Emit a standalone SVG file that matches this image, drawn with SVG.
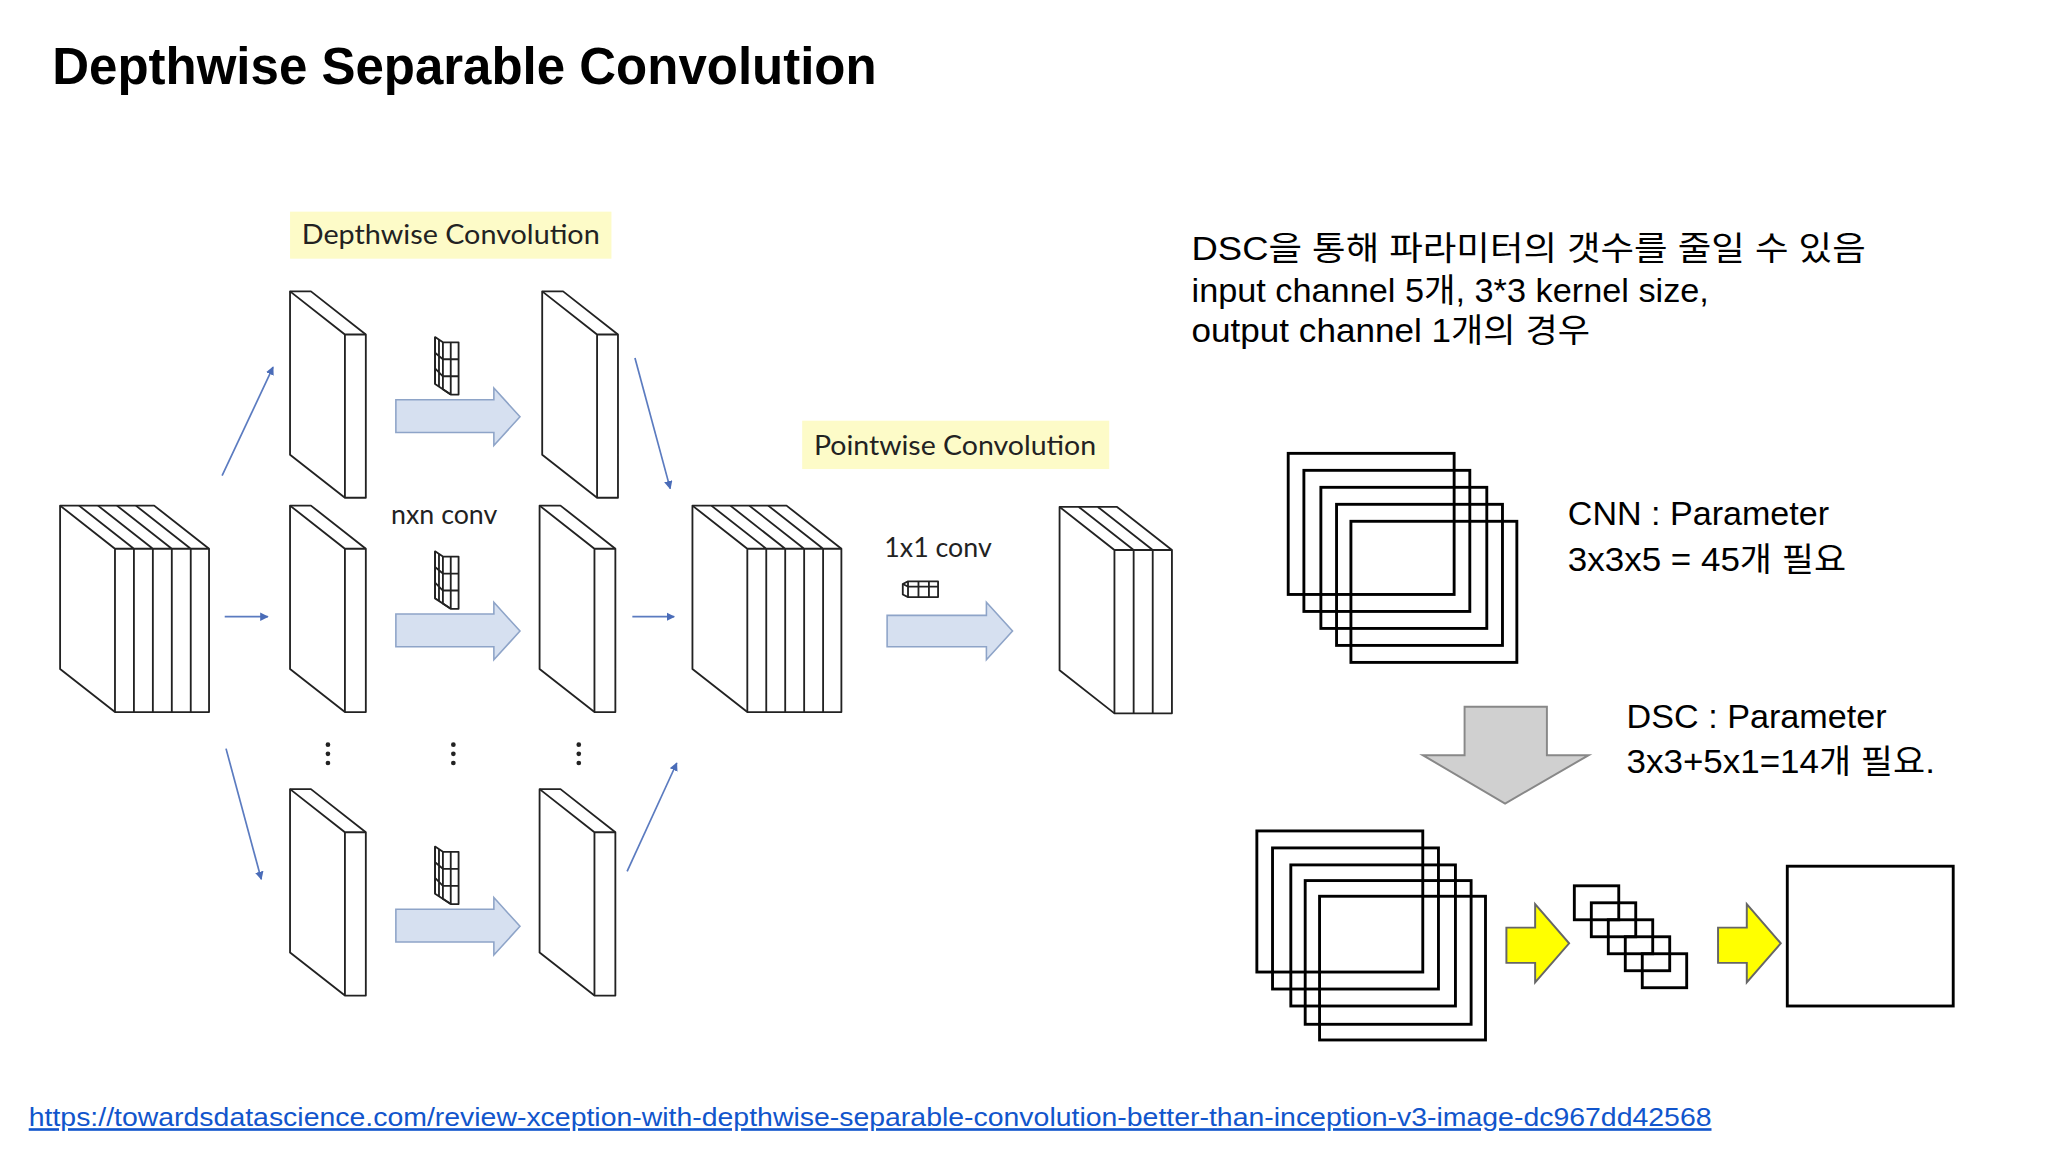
<svg xmlns="http://www.w3.org/2000/svg" width="2048" height="1152" viewBox="0 0 2048 1152">
<style>
.s{fill:#fff;stroke:#222;stroke-width:1.4;stroke-linejoin:round}
.ln{fill:none;stroke:#222;stroke-width:1.4}
.ba{fill:#d6e0f0;stroke:#8ea4c8;stroke-width:1.2}
.ta{stroke:#5b7bc0;stroke-width:1.3;fill:none;marker-end:url(#ah)}
.lbl{font-family:Lato,"Open Sans",sans-serif;font-size:20.5px;fill:#222}
.t{font-family:"Liberation Sans","Noto Sans CJK KR",sans-serif;font-size:25.5px;fill:#000}
.bx{fill:none;stroke:#000;stroke-width:2.2}
.ya{fill:#ffff00;stroke:#666;stroke-width:1.5}
</style>
<defs>
<marker id="ah" viewBox="0 0 10 10" refX="9" refY="5" markerWidth="5" markerHeight="5" orient="auto"><path d="M0,0L10,5L0,10z" fill="#4a6cb8"/></marker>
<g id="slab"><path class="s" d="M0,0L16,0L58,33L58,158L42,158L0,125Z"/><path class="ln" d="M0,0L42,33L58,33M42,33L42,158"/></g>
<g id="kern"><path class="s" d="M0,0L6,4L18,4L18,44L12,44L0,36Z"/><path class="ln" d="M0,0L0,36M6,4L6,40L12,44M12,4L12,44M6,17L18,17M6,30L18,30M0,12L6,17M0,24L6,30M3,2L3,38"/></g>
</defs>
<rect width="2048" height="1152" fill="#fff"/>
<g transform="scale(1.3065)">
<text x="40" y="64" font-family="Liberation Sans,sans-serif" font-weight="bold" font-size="39" fill="#000" textLength="631" lengthAdjust="spacingAndGlyphs">Depthwise Separable Convolution</text>

<g id="labels">
<rect x="222" y="162" width="246" height="36" fill="#fdfbc8"/>
<text class="lbl" x="345" y="187" text-anchor="middle" textLength="228" lengthAdjust="spacingAndGlyphs">Depthwise Convolution</text>
<rect x="614" y="322" width="235" height="37" fill="#fdfbc8"/>
<text class="lbl" x="731" y="348" text-anchor="middle" textLength="216" lengthAdjust="spacingAndGlyphs">Pointwise Convolution</text>
<text class="lbl" x="340" y="401" text-anchor="middle">nxn conv</text>
<text class="lbl" x="718" y="426" text-anchor="middle">1x1 conv</text>
</g>

<g id="input-stack">
<path class="s" d="M46,387L118,387L160,420L160,545L88,545L46,512Z"/>
<path class="ln" d="M46,387L88,420L160,420M60.5,387L102.5,420M75,387L117,420M89.5,387L131.5,420M104,387L146,420M88,420L88,545M102.5,420L102.5,545M117,420L117,545M131.5,420L131.5,545M146,420L146,545"/>
</g>
<g id="mid-stack">
<path class="s" d="M530,387L602,387L644,420L644,545L572,545L530,512Z"/>
<path class="ln" d="M530,387L572,420L644,420M544.5,387L586.5,420M559,387L601,420M573.5,387L615.5,420M588,387L630,420M572,420L572,545M586.5,420L586.5,545M601,420L601,545M615.5,420L615.5,545M630,420L630,545"/>
</g>
<g id="out-stack">
<path class="s" d="M811,388L855,388L897,421L897,546L853,546L811,513Z"/>
<path class="ln" d="M811,388L853,421L897,421M825.7,388L867.7,421M840.3,388L882.3,421M853,421L853,546M867.7,421L867.7,546M882.3,421L882.3,546"/>
</g>
<g id="slabs">
<use href="#slab" x="222" y="223"/><use href="#slab" x="415" y="223"/>
<use href="#slab" x="222" y="387"/><use href="#slab" x="413" y="387"/>
<use href="#slab" x="222" y="604"/><use href="#slab" x="413" y="604"/>
</g>
<g id="kernels">
<use href="#kern" x="333" y="258"/><use href="#kern" x="333" y="422"/><use href="#kern" x="333" y="648"/>
<path class="s" d="M691,447L695,445L718,445L718,457L695,457L691,455Z"/>
<path class="ln" d="M695,445L695,457M703,445L703,457M711,445L711,457M691,447L695,449L718,449"/>
</g>
<g id="connectors">
<path class="ba" d="M303,306H378V297L398,319L378,341V331H303Z"/>
<path class="ba" d="M303,470H378V461L398,483L378,505V495H303Z"/>
<path class="ba" d="M303,696H378V687L398,709L378,731V721H303Z"/>
<path class="ba" d="M679,471H755V461L775,483L755,505V495H679Z"/>
<line class="ta" x1="170" y1="364" x2="209" y2="281"/>
<line class="ta" x1="172" y1="472" x2="205" y2="472"/>
<line class="ta" x1="173" y1="573" x2="200" y2="673"/>
<line class="ta" x1="486" y1="274" x2="513" y2="374"/>
<line class="ta" x1="484" y1="472" x2="516" y2="472"/>
<line class="ta" x1="480" y1="667" x2="518" y2="584"/>
<path class="ya" d="M1153,710H1175V692L1201,722L1175,752V737H1153Z"/>
<path class="ya" d="M1315,710H1337V692L1363,722L1337,752V737H1315Z"/>
<path d="M1121,541H1184V578H1216L1152,615L1089,578H1121Z" fill="#d0d0d0" stroke="#888" stroke-width="1.5"/>
</g>
<g id="dots" fill="#222">
<circle cx="251" cy="570" r="1.8"/><circle cx="251" cy="577" r="1.8"/><circle cx="251" cy="584" r="1.8"/>
<circle cx="347" cy="570" r="1.8"/><circle cx="347" cy="577" r="1.8"/><circle cx="347" cy="584" r="1.8"/>
<circle cx="443" cy="570" r="1.8"/><circle cx="443" cy="577" r="1.8"/><circle cx="443" cy="584" r="1.8"/>
</g>
<g id="texts">
<text class="t" x="912" y="199" textLength="516" lengthAdjust="spacingAndGlyphs">DSC을 통해 파라미터의 갯수를 줄일 수 있음</text>
<text class="t" x="912" y="231" textLength="396" lengthAdjust="spacingAndGlyphs">input channel 5개, 3*3 kernel size,</text>
<text class="t" x="912" y="262" textLength="305" lengthAdjust="spacingAndGlyphs">output channel 1개의 경우</text>
<text class="t" x="1200" y="402" textLength="200" lengthAdjust="spacingAndGlyphs">CNN : Parameter</text>
<text class="t" x="1200" y="437" textLength="213" lengthAdjust="spacingAndGlyphs">3x3x5 = 45개 필요</text>
<text class="t" x="1245" y="557" textLength="199" lengthAdjust="spacingAndGlyphs">DSC : Parameter</text>
<text class="t" x="1245" y="592" textLength="236" lengthAdjust="spacingAndGlyphs">3x3+5x1=14개 필요.</text>
</g>
<g id="cnn-boxes">
<rect class="bx" x="986" y="347" width="127" height="108"/>
<rect class="bx" x="998" y="360" width="127" height="108"/>
<rect class="bx" x="1011" y="373" width="127" height="108"/>
<rect class="bx" x="1023" y="386" width="127" height="108"/>
<rect class="bx" x="1034" y="399" width="127" height="108"/>
</g>
<g id="dsc-boxes">
<rect class="bx" x="962" y="636" width="127" height="108"/>
<rect class="bx" x="974" y="649" width="127" height="108"/>
<rect class="bx" x="988" y="662" width="126" height="108"/>
<rect class="bx" x="999" y="674" width="127" height="110"/>
<rect class="bx" x="1010" y="686" width="127" height="110"/>
</g>
<g id="small-boxes">
<rect class="bx" x="1205" y="678" width="34" height="26"/>
<rect class="bx" x="1218" y="691" width="34" height="26"/>
<rect class="bx" x="1231" y="704" width="34" height="26"/>
<rect class="bx" x="1244" y="717" width="34" height="26"/>
<rect class="bx" x="1257" y="730" width="34" height="26"/>
</g>
<rect id="out-box" class="bx" x="1368" y="663" width="127" height="107"/>
<text x="22" y="862" font-family="Liberation Sans,sans-serif" font-size="20" fill="#1155cc" text-decoration="underline" textLength="1288" lengthAdjust="spacingAndGlyphs">https://towardsdatascience.com/review-xception-with-depthwise-separable-convolution-better-than-inception-v3-image-dc967dd42568</text>
</g>
</svg>
